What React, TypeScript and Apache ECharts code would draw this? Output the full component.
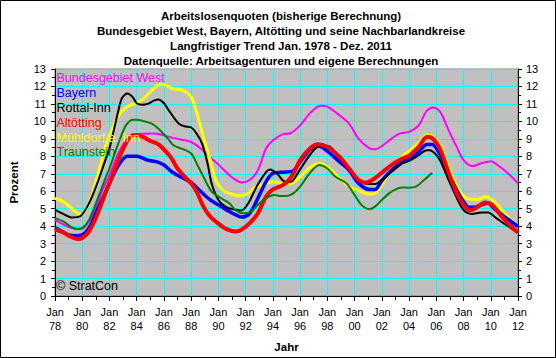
import React, { useEffect, useRef } from "react";
import * as echarts from "echarts";

const TITLE_LINES = [
  "Arbeitslosenquoten (bisherige Berechnung)",
  "Bundesgebiet West, Bayern, Altötting und seine Nachbarlandkreise",
  "Langfristiger Trend Jan. 1978 - Dez. 2011",
  "Datenquelle: Arbeitsagenturen und eigene Berechnungen",
];

const SERIES_NAMES = ["Bundesgebiet West", "Bayern", "Rottal-Inn", "Altötting", "Mühldorf a. Inn", "Traunstein"];
const SERIES_COLORS = ["#FF00FF", "#0000FF", "#000000", "#FF0000", "#FFFF00", "#008000"];

const bundWest: [number, number][] = [
  [1978.0, 4.35], [1978.5, 4.15], [1979.0, 3.95], [1979.5, 3.85], [1980.0, 3.85], [1980.5, 4.3],
  [1981.1, 5.25], [1981.5, 6.1], [1982.0, 6.9], [1982.6, 8.1], [1983.3, 9.0], [1984.0, 9.25],
  [1985.2, 9.3], [1986.0, 9.2], [1986.6, 9.07], [1987.3, 8.95], [1988.0, 8.82], [1988.7, 8.45],
  [1989.3, 8.0], [1989.9, 7.6], [1990.5, 7.15], [1991.1, 6.74], [1991.7, 6.5], [1992.3, 6.64],
  [1992.9, 7.2], [1993.5, 8.45], [1994.0, 8.9], [1994.7, 9.26], [1995.3, 9.32], [1996.0, 9.77],
  [1996.8, 10.53], [1997.5, 10.9], [1998.0, 10.85], [1998.9, 10.34], [1999.6, 9.87], [2000.3, 9.0],
  [2001.1, 8.45], [2001.5, 8.4], [2002.0, 8.58], [2002.7, 9.0], [2003.3, 9.3], [2004.0, 9.4],
  [2004.7, 9.77], [2005.3, 10.6], [2005.8, 10.8], [2006.3, 10.53], [2006.9, 9.5], [2007.5, 8.54],
  [2008.0, 7.78], [2008.7, 7.44], [2009.3, 7.6], [2010.0, 7.72], [2010.5, 7.5], [2011.3, 7.0],
  [2012.0, 6.45],
];

const bayern: [number, number][] = [
  [1978.0, 3.9], [1978.5, 3.7], [1979.0, 3.5], [1979.5, 3.45], [1980.0, 3.5], [1980.5, 3.9],
  [1981.1, 4.93], [1981.5, 5.6], [1982.0, 6.45], [1982.6, 7.4], [1983.3, 8.0], [1984.0, 8.0],
  [1984.8, 7.78], [1985.5, 7.68], [1986.0, 7.5], [1986.6, 7.1], [1987.2, 6.83], [1988.0, 6.5],
  [1988.7, 5.98], [1989.4, 5.5], [1990.0, 5.22], [1990.6, 4.93], [1991.4, 4.6], [1991.7, 4.52],
  [1992.3, 4.74], [1992.9, 5.6], [1993.5, 6.55], [1994.0, 7.02], [1995.0, 7.1], [1995.5, 7.17],
  [1996.0, 7.68], [1996.8, 8.44], [1997.4, 8.58], [1998.0, 8.3], [1998.9, 7.68], [1999.6, 7.2],
  [2000.3, 6.45], [2001.1, 6.1], [2001.5, 6.1], [2002.0, 6.6], [2002.7, 7.2], [2003.5, 7.68],
  [2004.0, 7.87], [2004.7, 8.25], [2005.3, 8.67], [2005.7, 8.67], [2006.3, 8.06], [2006.9, 7.02],
  [2007.5, 6.07], [2008.0, 5.41], [2008.4, 5.08], [2008.8, 5.08], [2009.3, 5.22], [2009.8, 5.31],
  [2010.3, 4.97], [2011.0, 4.55], [2012.0, 3.98],
];

const rottalInn: [number, number][] = [
  [1978.0, 4.93], [1978.6, 4.7], [1979.2, 4.5], [1979.9, 4.6], [1980.5, 5.31], [1981.1, 6.45],
  [1981.7, 7.78], [1982.0, 8.44], [1982.6, 10.44], [1982.9, 11.3], [1983.3, 11.6], [1983.7, 11.4],
  [1984.0, 11.04], [1984.4, 10.95], [1984.8, 11.0], [1985.3, 11.2], [1985.6, 11.25], [1986.0, 11.04],
  [1986.3, 10.7], [1986.7, 10.25], [1987.1, 9.87], [1987.5, 9.72], [1988.0, 9.65], [1988.4, 9.3],
  [1988.8, 8.73], [1989.2, 7.6], [1989.5, 6.45], [1990.0, 5.5], [1990.6, 5.08], [1991.4, 4.93],
  [1991.7, 4.9], [1992.2, 5.31], [1992.8, 6.26], [1993.5, 7.1], [1993.8, 7.25], [1994.3, 7.02],
  [1994.9, 6.55], [1995.3, 6.55], [1995.5, 6.64], [1996.0, 7.25], [1996.8, 8.16], [1997.5, 8.63],
  [1998.2, 8.54], [1998.9, 7.87], [1999.6, 7.25], [2000.3, 6.64], [2001.1, 6.41], [2001.5, 6.41],
  [2002.0, 6.64], [2002.7, 7.1], [2003.5, 7.59], [2004.0, 7.74], [2004.7, 8.06], [2005.3, 8.35],
  [2005.5, 8.35], [2006.2, 7.87], [2006.8, 6.83], [2007.4, 5.79], [2008.0, 4.93], [2008.6, 4.7],
  [2009.3, 4.78], [2009.8, 4.78], [2010.4, 4.46], [2011.3, 3.98], [2012.0, 3.64],
];

const altoetting: [number, number][] = [
  [1978.0, 3.8], [1978.6, 3.64], [1979.2, 3.38], [1979.7, 3.26], [1980.0, 3.32], [1980.5, 3.7],
  [1981.1, 4.65], [1981.7, 5.88], [1982.0, 6.45], [1982.6, 7.68], [1983.2, 8.73], [1983.7, 9.2],
  [1984.0, 9.2], [1984.5, 9.1], [1985.0, 8.88], [1985.5, 8.73], [1986.0, 8.39], [1986.5, 7.95],
  [1987.0, 7.3], [1987.5, 6.85], [1988.0, 6.45], [1988.4, 5.98], [1988.9, 5.12], [1989.4, 4.55],
  [1990.0, 4.14], [1990.6, 3.83], [1991.2, 3.7], [1991.7, 3.8], [1992.3, 4.17], [1992.9, 4.74],
  [1993.5, 5.69], [1994.0, 6.1], [1994.6, 6.3], [1995.0, 6.5], [1995.5, 7.0], [1996.0, 7.78],
  [1996.7, 8.44], [1997.3, 8.69], [1998.0, 8.54], [1998.9, 7.97], [1999.6, 7.3], [2000.3, 6.64],
  [2000.8, 6.49], [2001.3, 6.64], [2002.0, 7.06], [2002.7, 7.5], [2003.5, 7.87], [2004.0, 8.03],
  [2004.7, 8.54], [2005.3, 9.1], [2005.5, 9.1], [2006.2, 8.54], [2006.8, 7.3], [2007.4, 6.07],
  [2008.0, 5.22], [2008.5, 4.9], [2009.0, 5.08], [2009.6, 5.35], [2010.1, 5.22], [2010.8, 4.55],
  [2011.5, 3.98], [2012.0, 3.64],
];

const muehldorf: [number, number][] = [
  [1978.0, 5.6], [1978.6, 5.41], [1979.2, 5.03], [1979.9, 4.65], [1980.5, 5.31], [1981.1, 6.83],
  [1981.7, 8.54], [1982.0, 9.2], [1982.6, 10.25], [1983.3, 10.85], [1984.0, 11.04], [1984.5, 11.3],
  [1985.1, 11.76], [1985.7, 12.1], [1986.0, 12.1], [1986.3, 12.0], [1986.7, 11.86], [1987.3, 11.8],
  [1988.0, 11.39], [1988.4, 10.53], [1988.9, 9.1], [1989.4, 7.78], [1989.8, 6.64], [1990.3, 6.07],
  [1990.8, 5.88], [1991.5, 5.73], [1992.1, 5.84], [1992.6, 6.17], [1993.2, 6.36], [1994.0, 6.55],
  [1994.6, 6.45], [1995.3, 6.41], [1995.5, 6.49], [1996.0, 6.83], [1996.8, 7.4], [1997.4, 7.59],
  [1998.0, 7.4], [1998.9, 6.74], [1999.6, 6.26], [2000.2, 6.07], [2001.0, 5.84], [2001.5, 5.88],
  [2002.0, 6.36], [2002.7, 7.3], [2003.5, 8.0], [2004.0, 8.3], [2004.7, 8.77], [2005.3, 9.2],
  [2005.5, 9.2], [2006.2, 8.73], [2006.8, 7.59], [2007.4, 6.45], [2008.0, 5.73], [2008.6, 5.54],
  [2009.1, 5.54], [2009.6, 5.69], [2010.2, 5.46], [2011.0, 4.74], [2012.0, 3.98],
];

const traunstein: [number, number][] = [
  [1978.0, 4.46], [1978.6, 4.27], [1979.2, 3.95], [1979.7, 3.83], [1980.0, 3.89], [1980.5, 4.36],
  [1981.1, 5.5], [1981.7, 6.74], [1982.0, 7.3], [1982.6, 8.63], [1983.2, 9.77], [1983.7, 10.1],
  [1984.0, 10.1], [1984.5, 10.02], [1985.1, 9.87], [1985.6, 9.58], [1986.0, 9.26], [1986.3, 9.0],
  [1986.7, 8.63], [1987.3, 8.44], [1988.0, 8.16], [1988.4, 7.59], [1988.9, 6.83], [1989.5, 5.98],
  [1990.2, 5.6], [1990.8, 5.31], [1991.2, 4.97], [1991.7, 4.74], [1992.3, 4.78], [1992.9, 5.22],
  [1993.5, 5.6], [1994.1, 5.79], [1994.6, 5.73], [1995.0, 5.73], [1995.5, 5.88], [1996.0, 6.26],
  [1996.7, 7.02], [1997.4, 7.5], [1998.0, 7.3], [1998.6, 6.83], [1999.4, 6.45], [2000.0, 5.79],
  [2000.5, 5.22], [2001.1, 4.97], [2001.5, 5.12], [2002.0, 5.5], [2002.7, 5.98], [2003.5, 6.22],
  [2004.0, 6.2], [2004.5, 6.26], [2005.1, 6.64], [2005.7, 7.06],
];

const SERIES_DATA = [bundWest, bayern, rottalInn, altoetting, muehldorf, traunstein];
const LINE_WIDTHS = [2, 3.5, 2, 4, 3, 2];
const DRAW_ORDER = [0, 4, 1, 2, 3, 5];

const FONT = "'Liberation Sans', Arial, sans-serif";

export default function App() {
  const ref = useRef<HTMLDivElement>(null);
  useEffect(() => {
    document.body.style.margin = "0";
    if (!ref.current) return;
    const chart = echarts.init(ref.current, undefined, { renderer: "svg" });
    const graphic: any[] = [];
    graphic.push({
      type: "rect",
      shape: { x: 0.5, y: 0.5, width: 555, height: 357 },
      style: { fill: "none", stroke: "#000", lineWidth: 1 },
      z: 100,
    });
    TITLE_LINES.forEach((t, i) => {
      graphic.push({
        type: "text",
        x: 281,
        y: 15.5 + i * 15.3,
        style: {
          text: t,
          fill: "#000",
          font: `bold 11.5px ${FONT}`,
          align: "center",
          verticalAlign: "middle",
          textAlign: "center",
          textVerticalAlign: "middle",
        },
      });
    });
    SERIES_NAMES.forEach((n, i) => {
      graphic.push({
        type: "text",
        x: 56.5,
        y: 78.3 + i * 14.8,
        z: 50,
        style: {
          text: n,
          fill: SERIES_COLORS[i],
          font: `12.5px ${FONT}`,
          verticalAlign: "middle",
          textVerticalAlign: "middle",
        },
      });
    });
    graphic.push({
      type: "text",
      x: 56,
      y: 285.7,
      z: 50,
      style: {
        text: "© StratCon",
        fill: "#000",
        font: `12.5px ${FONT}`,
        verticalAlign: "middle",
        textVerticalAlign: "middle",
      },
    });

    const yAxisBase = {
      type: "value",
      min: 0,
      max: 13,
      interval: 1,
      axisLine: { show: true, lineStyle: { color: "#000", width: 1 } },
      axisTick: { show: true, length: 4, lineStyle: { color: "#000" } },
      minorTick: { show: true, splitNumber: 2, length: 3, lineStyle: { color: "#000" } },
      axisLabel: { color: "#000", fontSize: 11, fontFamily: FONT, margin: 9 },
    };

    chart.setOption({
      animation: false,
      backgroundColor: "#fff",
      grid: {
        left: 53,
        right: 38,
        top: 69,
        bottom: 60,
        show: true,
        backgroundColor: "#C0C0C0",
        borderColor: "#808080",
        borderWidth: 1,
      },
      xAxis: {
        type: "value",
        min: 1978,
        max: 2012,
        interval: 2,
        name: "Jahr",
        nameLocation: "middle",
        nameGap: 45,
        nameTextStyle: { color: "#000", fontSize: 11.5, fontWeight: "bold", fontFamily: FONT },
        axisLine: { show: true, lineStyle: { color: "#000", width: 1 } },
        axisTick: { show: true, length: 5, lineStyle: { color: "#000" } },
        minorTick: { show: true, splitNumber: 2, length: 4, lineStyle: { color: "#000" } },
        splitLine: { show: true, lineStyle: { color: "#00FFFF", width: 1 } },
        axisLabel: {
          color: "#000",
          fontSize: 11,
          fontFamily: FONT,
          lineHeight: 14,
          margin: 9,
          formatter: (v: number) => "Jan\n" + String(Math.round(v) % 100).padStart(2, "0"),
        },
      },
      yAxis: [
        {
          ...yAxisBase,
          position: "left",
          name: "Prozent",
          nameLocation: "middle",
          nameRotate: 90,
          nameGap: 35,
          nameTextStyle: { color: "#000", fontSize: 11.5, fontWeight: "bold", fontFamily: FONT },
          splitLine: { show: true, lineStyle: { color: "#00FFFF", width: 1 } },
        },
        {
          ...yAxisBase,
          position: "right",
          splitLine: { show: false },
          axisLabel: { ...yAxisBase.axisLabel, margin: 8 },
        },
      ],
      series: DRAW_ORDER.map((i) => ({
        name: SERIES_NAMES[i],
        type: "line",
        yAxisIndex: 0,
        data: SERIES_DATA[i],
        showSymbol: false,
        smooth: 0.3,
        lineStyle: { color: SERIES_COLORS[i], width: LINE_WIDTHS[i] },
        itemStyle: { color: SERIES_COLORS[i] },
      })),
      graphic,
    });
    return () => chart.dispose();
  }, []);
  return <div ref={ref} style={{ width: 556, height: 358 }} />;
}
